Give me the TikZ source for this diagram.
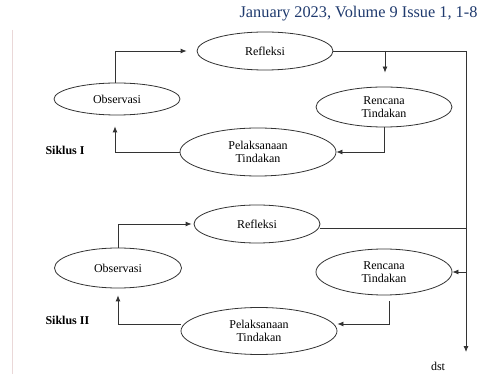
\documentclass[tikz,border=0pt]{standalone}
\usepackage{fontspec}
\setmainfont{Liberation Serif}
\usetikzlibrary{shapes.geometric,arrows.meta}
\definecolor{hdr}{HTML}{1F3A6E}
\definecolor{lnc}{HTML}{333333}
\definecolor{margin}{HTML}{EAD8D8}
\tikzset{
  el/.style={ellipse,draw=lnc,line width=0.8pt,inner sep=0pt,align=center,font=\fontsize{12}{13.5}\selectfont},
  conn/.style={draw=lnc,line width=0.8pt},
  arr/.style={conn,-{Latex[length=6pt,width=5pt]}},
  lbl/.style={font=\fontsize{12}{14}\selectfont\bfseries,anchor=west},
}
\begin{document}
\begin{tikzpicture}[x=1pt,y=-1pt]
\useasboundingbox (0,0) rectangle (493,374);
\fill[white] (0,0) rectangle (493,374);
\draw[margin,line width=0.8pt] (12,30) -- (12,374);
\node[anchor=east,text=hdr,font=\fontsize{16.3}{18}\selectfont] (hd) at (481,14) {January 2023, Volume 9 Issue 1, 1-8};

% Siklus I
\node[el,minimum width=136pt,minimum height=38pt] (r1) at (265,51) {Refleksi};
\node[el,minimum width=126pt,minimum height=32pt] (o1) at (117,99) {Observasi};
\node[el,minimum width=136pt,minimum height=40pt] (c1) at (384,107) {Rencana\\Tindakan};
\node[el,minimum width=156pt,minimum height=48pt] (p1) at (258,152) {Pelaksanaan\\Tindakan};
\node[lbl] (s1) at (42,150) {Siklus I};

% Siklus II
\node[el,minimum width=126pt,minimum height=38pt] (r2) at (257,224) {Refleksi};
\node[el,minimum width=127pt,minimum height=40pt] (o2) at (118,268) {Observasi};
\node[el,minimum width=136pt,minimum height=46pt] (c2) at (384,272) {Rencana\\Tindakan};
\node[el,minimum width=156pt,minimum height=47pt] (p2) at (259,331) {Pelaksanaan\\Tindakan};
\node[lbl] (s2) at (42,320) {Siklus II};

\node[font=\fontsize{12}{14}\selectfont] (dst) at (438,366) {dst};

% trunk
\coordinate (t1) at (466,51);
\coordinate (tb) at (466,352);
\coordinate (b1) at (385,51);

\draw[conn] (r1.east) -- (t1);
\draw[arr] (t1) -- (tb);
\draw[arr,shorten >=14pt] (b1) -- (b1 |- c1.north);
\draw[arr,shorten >=10pt] ([xshift=-2pt]o1.north) |- (r1.west);
\draw[arr] (c1.south) |- (p1.east);
\draw[arr,shorten >=11pt] (p1.west) -| ([xshift=-2pt]o1.south);

\draw[conn] ([yshift=-4pt]r2.east) -- ([yshift=-4pt]r2.east -| t1);
\draw[arr] (c2.east -| t1) -- (c2.east);
\draw[arr,shorten >=2pt] (o2.north) |- (r2.west);
\draw[arr] ([xshift=5pt,yshift=-6pt]c2.south) |- ([yshift=7pt]p2.east);
\draw[arr,shorten >=7pt] ([yshift=7pt]p2.west) -| (o2.south);
\end{tikzpicture}
\end{document}
